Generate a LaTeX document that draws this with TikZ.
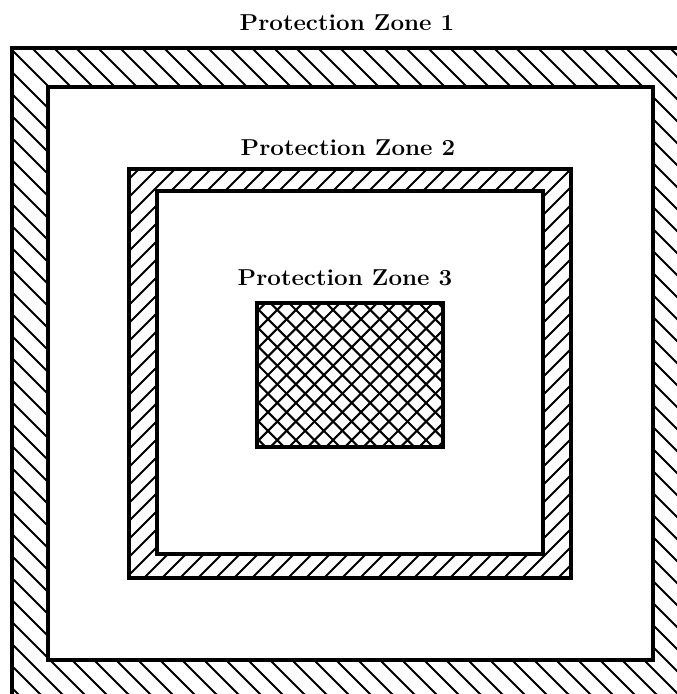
\documentclass[tikz,border=0pt]{standalone}
\tikzset{
  frameline/.style={line width=3.2pt, line join=miter},
  hatchline/.style={line width=2.1pt},
  zonelabel/.style={inner sep=0pt, anchor=base, font=\fontsize{23}{27}\selectfont\bfseries},
}
\begin{document}
\begin{tikzpicture}[x=1pt,y=-1pt]
\useasboundingbox (0,0) rectangle (677,694);
\clip (0,0) rectangle (677,694);
% Zone 1 band
\begin{scope}
  \clip (12,48) rectangle (700,720);
  \foreach \c in {-720,-698,...,700} \draw[hatchline] (\c,0) -- ++(760,760);
\end{scope}
\fill[white] (48,87) rectangle (653,660);
\draw[frameline] (12,48) rectangle (700,720);
\draw[frameline] (48,87) rectangle (653,660);
% Zone 2 band
\begin{scope}
  \clip (129,169) rectangle (571,578);
  \foreach \c in {290,308,...,1170} \draw[hatchline] (\c,0) -- ++(-760,760);
\end{scope}
\fill[white] (157,191) rectangle (543,554);
\draw[frameline] (129,169) rectangle (571,578);
\draw[frameline] (157,191) rectangle (543,554);
% Zone 3 crosshatch
\begin{scope}
  \clip (257,303) rectangle (443,447);
  \foreach \c in {-200,-181.4,...,200} \draw[hatchline] (\c,0) -- ++(760,760);
  \foreach \c in {550,568.6,...,900} \draw[hatchline] (\c,0) -- ++(-760,760);
\end{scope}
\draw[frameline] (257,303) rectangle (443,447);
% Labels
\node[zonelabel] (z1) at (347,30) {\scalebox{1.05}[1]{Protection Zone 1}};
\node[zonelabel] (z2) at (348,155) {\scalebox{1.05}[1]{Protection Zone 2}};
\node[zonelabel] (z3) at (345,285) {\scalebox{1.05}[1]{Protection Zone 3}};
\end{tikzpicture}
\end{document}
